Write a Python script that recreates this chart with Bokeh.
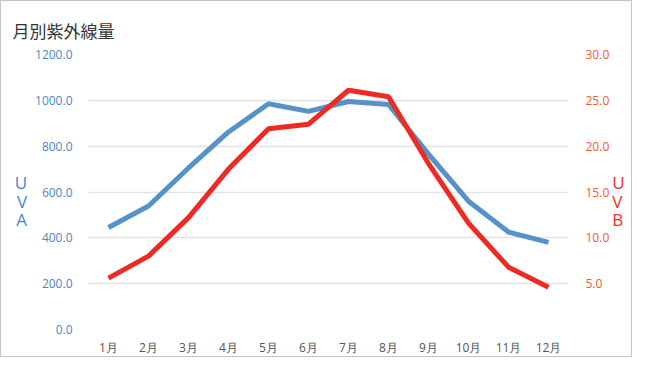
from bokeh.plotting import figure
from bokeh.models import Range1d, LinearAxis, FixedTicker, NumeralTickFormatter
from bokeh.embed import file_html
from bokeh.resources import INLINE

months = ["1月", "2月", "3月", "4月", "5月", "6月", "7月", "8月", "9月", "10月", "11月", "12月"]
uva = [445, 539, 705, 862, 985, 952, 995, 982, 765, 560, 425, 380]
uvb = [5.6, 8.0, 12.2, 17.5, 21.9, 22.4, 26.1, 25.4, 18.1, 11.6, 6.8, 4.6]
uva_ticks = [0, 200, 400, 600, 800, 1000, 1200]
uvb_ticks = [5, 10, 15, 20, 25, 30]

W, H = 632, 357
ML, MR, MT, MB = 87, 65, 53, 28
p = figure(width=W, height=H, x_range=months, y_range=Range1d(0, 1200),
           output_backend="svg", toolbar_location=None,
           min_border_left=ML, min_border_right=MR, min_border_top=MT, min_border_bottom=MB)
p.extra_y_ranges = {"uvb": Range1d(0, 30)}
p.outline_line_color = None
p.background_fill_color = "white"
p.border_fill_color = "white"
p.styles = {"border": "1px solid #c4c4c4"}

font = "Open Sans"

p.title.text = "月別紫外線量"
p.title.align = "left"
p.title.offset = -76
p.title.standoff = 24
p.title.text_font = "Noto Sans CJK JP"
p.title.text_font_size = "17px"
p.title.text_font_style = "normal"
p.title.text_color = "#333333"

# left axis
ya = p.yaxis[0]
ya.ticker = FixedTicker(ticks=uva_ticks)
ya.formatter = NumeralTickFormatter(format="0.0")
ya.axis_line_color = None
ya.major_tick_line_color = None
ya.minor_tick_line_color = None
ya.major_label_text_color = "#4a86c6"
ya.major_label_text_font = font
ya.major_label_text_font_size = "12px"
ya.major_label_standoff = 10
ya.axis_label = "\nU\nV\nA"
ya.axis_label_orientation = "horizontal"
ya.axis_label_text_color = "#4a86c6"
ya.axis_label_text_font = font
ya.axis_label_text_font_style = "normal"
ya.axis_label_text_font_size = "17px"
ya.axis_label_text_line_height = 0.8
ya.axis_label_standoff = 5

# right axis
yb = LinearAxis(y_range_name="uvb", ticker=FixedTicker(ticks=uvb_ticks),
                formatter=NumeralTickFormatter(format="0.0"))
yb.axis_line_color = None
yb.major_tick_line_color = None
yb.minor_tick_line_color = None
yb.major_label_text_color = "#ee5a38"
yb.major_label_text_font = font
yb.major_label_text_font_size = "12px"
yb.major_label_standoff = 11
yb.axis_label = "\nU\nV\nB"
yb.axis_label_orientation = "horizontal"
yb.axis_label_text_color = "#e8302a"
yb.axis_label_text_font = font
yb.axis_label_text_font_style = "normal"
yb.axis_label_text_font_size = "17px"
yb.axis_label_text_line_height = 0.8
yb.axis_label_standoff = 0
p.add_layout(yb, "right")

# x axis
xa = p.xaxis[0]
xa.axis_line_color = None
xa.major_tick_line_color = None
xa.minor_tick_line_color = None
xa.major_label_text_color = "#555555"
xa.major_label_text_font = font
xa.major_label_text_font_size = "12px"
xa.major_label_standoff = 3
xa.axis_label = None

p.xgrid.grid_line_color = None
p.ygrid.grid_line_color = "#e2e2e2"
p.ygrid.grid_line_width = 1.5
p.ygrid.ticker = FixedTicker(ticks=uva_ticks)

p.line(months, uva, line_color="#5592c8", line_width=5)
p.line(months, uvb, y_range_name="uvb", line_color="#ee2a24", line_width=5)

open("out.html", "w").write(file_html(p, INLINE))
